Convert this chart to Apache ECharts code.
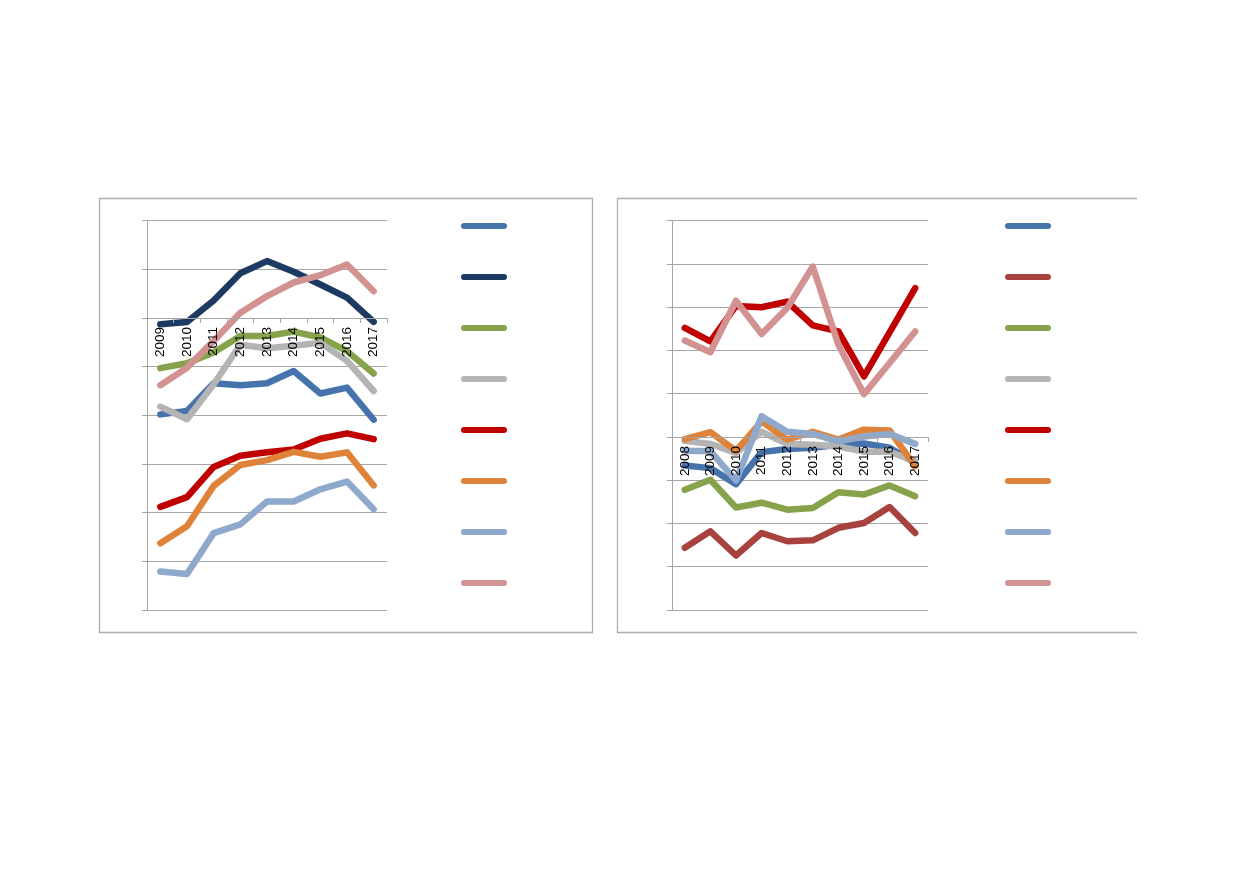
<!DOCTYPE html>
<html>
<head>
<meta charset="utf-8">
<script src="https://cdn.jsdelivr.net/npm/echarts@6/dist/echarts.min.js"></script>
<style>
html,body{margin:0;padding:0;background:#fff;}
#chart{width:1239px;height:872px;}
</style>
</head>
<body>
<div id="chart"></div>
<script>
// ---- Left panel data ----
const leftYears = ['2009','2010','2011','2012','2013','2014','2015','2016','2017'];
const leftBlue      = [-1.98,-1.91,-1.34,-1.38,-1.34,-1.09,-1.55,-1.43,-2.09];
const leftNavy      = [-0.13,-0.08,0.36,0.92,1.17,0.95,0.69,0.42,-0.08];
const leftGreen     = [-1.03,-0.93,-0.71,-0.37,-0.37,-0.28,-0.40,-0.68,-1.14];
const leftGray      = [-1.82,-2.08,-1.36,-0.55,-0.62,-0.57,-0.51,-0.88,-1.50];
const leftRed       = [-3.88,-3.68,-3.06,-2.83,-2.76,-2.70,-2.48,-2.37,-2.49];
const leftOrange    = [-4.63,-4.28,-3.45,-3.02,-2.92,-2.75,-2.85,-2.76,-3.44];
const leftLightBlue = [-5.21,-5.26,-4.42,-4.24,-3.77,-3.77,-3.52,-3.36,-3.93];
const leftPink      = [-1.38,-1.02,-0.47,0.11,0.45,0.73,0.88,1.10,0.55];

// ---- Right panel data ----
const rightYears = ['2008','2009','2010','2011','2012','2013','2014','2015','2016','2017'];
const rightBlue      = [-0.66,-0.72,-1.09,-0.35,-0.28,-0.25,-0.18,-0.15,-0.25,-0.60];
const rightDarkRed   = [-2.56,-2.18,-2.74,-2.22,-2.41,-2.39,-2.10,-1.99,-1.62,-2.22];
const rightGreen     = [-1.22,-0.99,-1.63,-1.52,-1.68,-1.64,-1.28,-1.33,-1.12,-1.37];
const rightGray      = [-0.09,-0.16,-0.37,0.12,-0.16,-0.18,-0.22,-0.34,-0.34,-0.56];
const rightRed       = [2.52,2.21,3.03,3.00,3.13,2.58,2.44,1.40,2.42,3.44];
const rightOrange    = [-0.05,0.11,-0.32,0.36,-0.06,0.12,-0.06,0.17,0.15,-0.68];
const rightLightBlue = [-0.32,-0.33,-1.01,0.48,0.12,0.07,-0.10,0.01,0.07,-0.16];
const rightPink      = [2.23,1.96,3.15,2.38,2.98,3.94,2.13,0.99,1.71,2.44];

const C = {
  blue:'#4673AC', navy:'#1C3A62', green:'#86A34B', gray:'#B4B4B4',
  red:'#C00000', orange:'#DF833A', lightBlue:'#8FA9CD', pink:'#D39292', darkRed:'#A7423F'
};

const leftSeries = [
  ['L1', leftBlue, C.blue], ['L2', leftNavy, C.navy], ['L3', leftGreen, C.green],
  ['L4', leftGray, C.gray], ['L5', leftRed, C.red], ['L6', leftOrange, C.orange],
  ['L7', leftLightBlue, C.lightBlue], ['L8', leftPink, C.pink]
];
const rightSeries = [
  ['R1', rightBlue, C.blue], ['R2', rightDarkRed, C.darkRed], ['R3', rightGreen, C.green],
  ['R4', rightGray, C.gray], ['R5', rightRed, C.red], ['R6', rightOrange, C.orange],
  ['R7', rightLightBlue, C.lightBlue], ['R8', rightPink, C.pink]
];

const gridColor = '#A6A6A6';
const gridTop = 220.7, gridBottomY = 610;
// x axis crosses y = 0; offset it to that height (axis min/max known)
function zeroOffset(min, max){
  return -(gridBottomY - gridTop) * (0 - min) / (max - min);
}
function xAxisCfg(idx, cats, min, max){
  return {
    type:'category', gridIndex:idx, data:cats, boundaryGap:true, z:10,
    position:'bottom', offset:zeroOffset(min, max),
    axisLine:{onZero:false, lineStyle:{color:gridColor, width:1}},
    axisTick:{show:true, length:5, lineStyle:{color:gridColor}},
    axisLabel:{rotate:90, margin:9, color:'#000', fontFamily:'Liberation Sans, Arial', fontSize:13.5, interval:0}
  };
}
function yAxisCfg(idx, min, max){
  return {
    type:'value', gridIndex:idx, min:min, max:max, interval:1,
    axisLine:{show:true, onZero:false, lineStyle:{color:gridColor, width:1}},
    axisTick:{show:true, length:5, lineStyle:{color:gridColor}},
    axisLabel:{show:false},
    splitLine:{show:true, lineStyle:{color:gridColor, width:1}}
  };
}
function mkSeries(list, idx){
  return list.map(([name, data, color]) => ({
    name, type:'line', xAxisIndex:idx, yAxisIndex:idx, data,
    symbol:'none', smooth:false, color,
    lineStyle:{width:6.5, color, cap:'round', join:'round'}
  }));
}
const legendIcon = 'path://M3,0 L43,0 A3,3 0 0 1 43,6 L3,6 A3,3 0 0 1 3,0 Z';
function legendCfg(list, left){
  return {
    orient:'vertical', left:left, top:223, padding:0, itemWidth:46, itemHeight:6, itemGap:45,
    icon:legendIcon, selectedMode:false, formatter:() => '',
    textStyle:{fontSize:6, lineHeight:6, padding:0},
    data:list.map(s => ({name:s[0], itemStyle:{color:s[2]}}))
  };
}

const chart = echarts.init(document.getElementById('chart'), null, {renderer:'canvas'});
chart.setOption({
  backgroundColor:'#fff',
  animation:false,
  grid:[
    {left:147, right:1239-387, top:gridTop, bottom:872-gridBottomY},
    {left:672, right:1239-928, top:gridTop, bottom:872-gridBottomY}
  ],
  xAxis:[xAxisCfg(0, leftYears, -6, 2), xAxisCfg(1, rightYears, -4, 5)],
  yAxis:[yAxisCfg(0, -6, 2), yAxisCfg(1, -4, 5)],
  legend:[legendCfg(leftSeries, 461), legendCfg(rightSeries, 1005)],
  graphic:[
    {type:'rect', shape:{x:99.5, y:198.5, width:493, height:434}, style:{fill:'none', stroke:'#ACACAC', lineWidth:1.3}, silent:true},
    {type:'polyline', shape:{points:[[1137,198.5],[617.5,198.5],[617.5,632.5],[1137,632.5]]}, style:{fill:'none', stroke:'#ACACAC', lineWidth:1.3}, silent:true}
  ],
  series:[...mkSeries(leftSeries, 0), ...mkSeries(rightSeries, 1)]
});
</script>
</body>
</html>
